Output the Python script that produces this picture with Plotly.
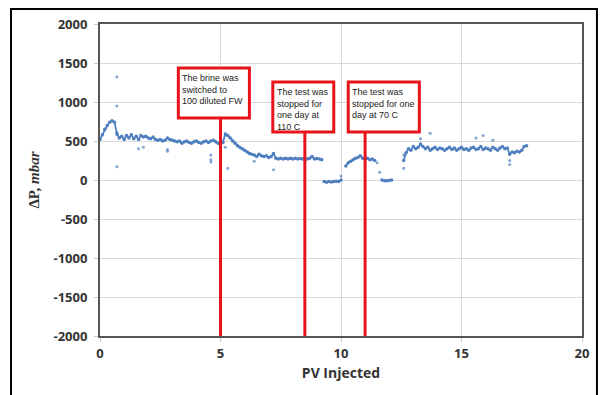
import plotly.graph_objects as go

# ---------------- data ----------------
pv_a = [0.0,0.1,0.2,0.3,0.4,0.5,0.6,0.7,0.8,0.9,1.0,1.1,1.2,1.3,1.4,1.5,1.6,1.7,1.8,1.9,
        2.0,2.1,2.2,2.3,2.4,2.5,2.6,2.7,2.8,2.9,3.0,3.1,3.2,3.3,3.4,3.5,3.6,3.7,3.8,3.9,
        4.0,4.1,4.2,4.3,4.4,4.5,4.6,4.7,4.8,4.9,5.0]
dp_a = [520,580,650,700,740,760,740,600,540,560,520,570,540,580,530,560,520,570,550,560,
        540,530,550,520,510,520,500,510,540,520,510,500,490,500,470,490,500,480,470,490,
        500,480,470,490,500,480,500,510,490,470,450]

pv_b = [5.1,5.2,5.3,5.4,5.5,5.6,5.7,5.8,5.9,6.0,6.1,6.2,6.3,6.4,6.5,6.6,6.7,6.8,6.9,7.0,
        7.1,7.2,7.3,7.4,7.5,7.6,7.7,7.8,7.9,8.0,8.1,8.2,8.3,8.4,8.5,8.6,8.7,8.8,8.9,9.0,9.1,9.2]
dp_b = [480,590,570,540,500,470,440,420,400,380,360,340,330,320,300,330,310,300,310,290,
        300,340,280,270,280,270,280,270,280,270,280,270,275,270,280,270,280,300,270,275,270,260]

pv_c = [9.3,9.4,9.5,9.6,9.7,9.8,9.9,10.0]
dp_c = [-20,-30,-20,-25,-20,-15,-20,0]

pv_d = [10.2,10.3,10.4,10.5,10.6,10.7,10.8,10.9,11.0,11.1,11.2,11.3,11.4]
dp_d = [180,220,240,260,280,290,310,280,270,280,260,270,250]

pv_e = [11.7,11.8,11.9,12.0,12.1]
dp_e = [0,-10,-10,-5,0]

pv_f = [12.6,12.7,12.8,12.9,13.0,13.1,13.2,13.3,13.4,13.5,13.6,13.7,13.8,13.9,14.0,14.1,
        14.2,14.3,14.4,14.5,14.6,14.7,14.8,14.9,15.0,15.1,15.2,15.3,15.4,15.5,15.6,15.7,
        15.8,15.9,16.0,16.1,16.2,16.3,16.4,16.5,16.6,16.7,16.8,16.9,17.0,17.1,17.2,17.3,
        17.4,17.5,17.6,17.7]
dp_f = [250,350,400,380,430,400,420,460,430,400,420,380,400,420,390,410,
        400,380,400,420,390,410,380,400,420,390,400,380,410,420,390,400,
        430,390,410,400,380,420,400,380,410,430,400,410,330,360,350,370,
        360,380,430,440]

pv_scatter = [0.7,0.7,0.7,0.7,1.6,1.8,2.8,2.8,4.6,4.6,4.6,5.3,5.2,6.4,7.2,10.0,11.6,11.5,
              12.6,12.6,13.3,13.7,15.6,15.9,16.3,17.0,17.0]
dp_scatter = [1320,950,170,580,400,420,390,370,320,260,230,150,420,240,130,50,100,220,
              150,320,530,600,540,570,510,250,200]

events_pv = [5.0, 8.5, 11.0]
events_text = ["The brine was<br>switched to<br>100 diluted FW",
               "The test was<br>stopped for<br>one day at<br>110 C",
               "The test was<br>stopped for one<br>day at 70 C"]
box_x0 = [3.25, 7.17, 10.3]
box_x1 = [6.2, 9.7, 13.25]
box_y0 = [795, 615, 615]
box_y1 = [1436, 1256, 1256]

x_ticks = [0, 5, 10, 15, 20]
x_ticktext = ["0", "5", "10", "15", "20"]
y_ticks = [-2000, -1500, -1000, -500, 0, 500, 1000, 1500, 2000]
y_ticktext = ["-2000", "-1500", "-1000", "-500", "0", "500", "1000", "1500", "2000"]

# ---------------- figure ----------------
BLUE = "#4f7fbf"
segs = [(pv_a, dp_a), (pv_b, dp_b), (pv_c, dp_c), (pv_d, dp_d), (pv_e, dp_e), (pv_f, dp_f)]
xs, ys = [], []
for sx, sy in segs:
    xs += sx + [None]
    ys += sy + [None]

fig = go.Figure()
fig.add_trace(go.Scatter(x=xs, y=ys, mode="lines+markers",
                         line=dict(color=BLUE, width=1.8),
                         marker=dict(color=BLUE, size=3.5),
                         connectgaps=False, showlegend=False, hoverinfo="skip"))
fig.add_trace(go.Scatter(x=pv_scatter, y=dp_scatter, mode="markers",
                         marker=dict(color=BLUE, size=3, opacity=0.7),
                         showlegend=False, hoverinfo="skip"))

shapes = []
annotations = []
for ex, tx, x0, x1, y0, y1 in zip(events_pv, events_text, box_x0, box_x1, box_y0, box_y1):
    shapes.append(dict(type="line", xref="x", yref="y", x0=ex, x1=ex, y0=-2000, y1=y0,
                       line=dict(color="#e8141c", width=3), layer="above"))
    shapes.append(dict(type="rect", xref="x", yref="y", x0=x0, x1=x1, y0=y0, y1=y1,
                       line=dict(color="#e8141c", width=3), fillcolor="white", layer="above"))
    annotations.append(dict(xref="x", yref="y", x=x0, y=y1, xanchor="left", yanchor="top",
                            xshift=2, yshift=-3, text=tx, showarrow=False, align="left",
                            font=dict(family="Liberation Sans", size=9, color="#222")))

# outer frame of the picture
shapes.append(dict(type="rect", xref="paper", yref="paper",
                   x0=-0.1846, x1=1.031, y0=-0.25, y1=1.048,
                   line=dict(color="black", width=2), fillcolor="rgba(0,0,0,0)", layer="above"))

tickfont = dict(family="Open Sans", size=13, color="#333", weight="bold")
fig.update_layout(
    width=600, height=395,
    margin=dict(l=100, r=18, t=24, b=59),
    paper_bgcolor="white", plot_bgcolor="white",
    shapes=shapes, annotations=annotations,
    xaxis=dict(range=[0, 20], tickvals=x_ticks, ticktext=x_ticktext,
               showgrid=True, gridcolor="#d9d9d9", gridwidth=1,
               zeroline=False, showline=True, linecolor="#555", linewidth=2, mirror=True,
               ticks="outside", ticklen=4, tickcolor="#cccccc", tickfont=tickfont,
               title=dict(text="PV Injected", standoff=8,
                          font=dict(family="Open Sans", size=14, color="#333", weight="bold"))),
    yaxis=dict(range=[-2000, 2000], tickvals=y_ticks, ticktext=y_ticktext,
               showgrid=True, gridcolor="#d9d9d9", gridwidth=1,
               zeroline=False, showline=True, linecolor="#555", linewidth=2, mirror=True,
               ticks="outside", ticklen=4, tickcolor="#cccccc", tickfont=tickfont,
               ticklabelstandoff=4,
               title=dict(text="ΔP, <i>mbar</i>", standoff=10,
                          font=dict(family="Liberation Serif", size=15, color="#333", weight="bold"))),
)

fig.write_html("out.html")
